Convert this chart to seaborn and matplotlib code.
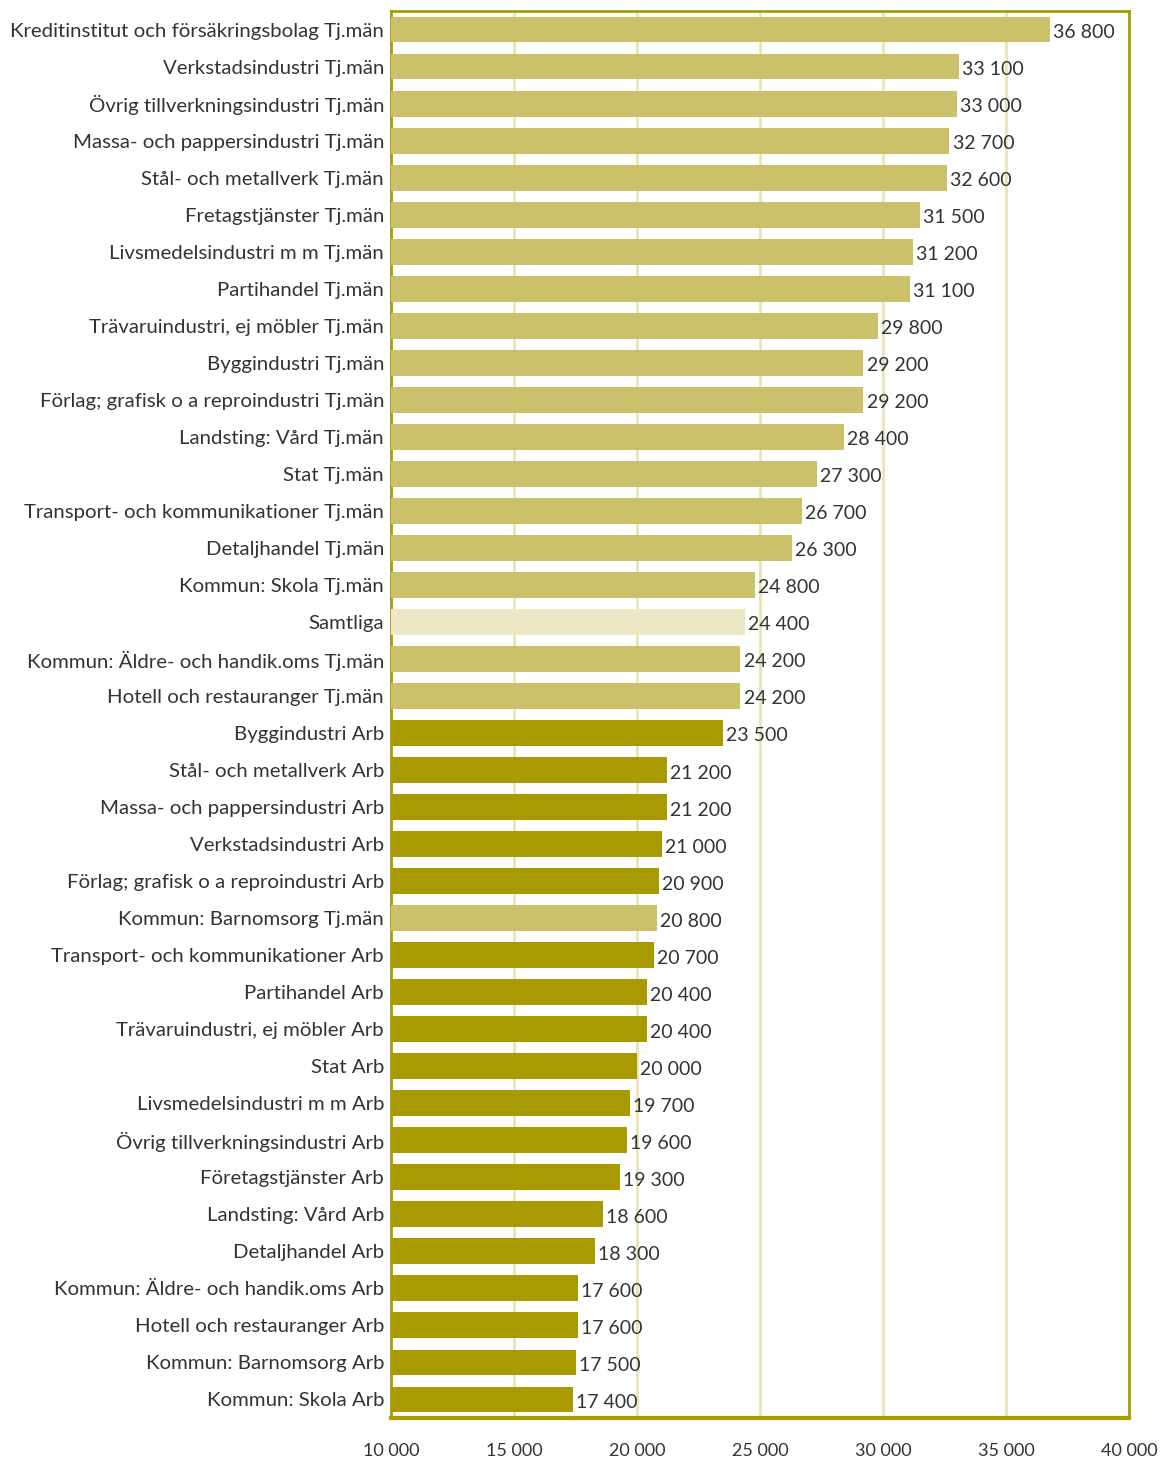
import matplotlib
matplotlib.use("Agg")
import matplotlib.pyplot as plt
import seaborn as sns
import pandas as pd
from matplotlib.ticker import FuncFormatter

categories = [
    "Kreditinstitut och försäkringsbolag Tj.män",
    "Verkstadsindustri Tj.män",
    "Övrig tillverkningsindustri Tj.män",
    "Massa- och pappersindustri Tj.män",
    "Stål- och metallverk Tj.män",
    "Fretagstjänster Tj.män",
    "Livsmedelsindustri m m Tj.män",
    "Partihandel Tj.män",
    "Trävaruindustri, ej möbler Tj.män",
    "Byggindustri Tj.män",
    "Förlag; grafisk o a reproindustri Tj.män",
    "Landsting: Vård Tj.män",
    "Stat Tj.män",
    "Transport- och kommunikationer Tj.män",
    "Detaljhandel Tj.män",
    "Kommun: Skola Tj.män",
    "Samtliga",
    "Kommun: Äldre- och handik.oms Tj.män",
    "Hotell och restauranger Tj.män",
    "Byggindustri Arb",
    "Stål- och metallverk Arb",
    "Massa- och pappersindustri Arb",
    "Verkstadsindustri Arb",
    "Förlag; grafisk o a reproindustri Arb",
    "Kommun: Barnomsorg Tj.män",
    "Transport- och kommunikationer Arb",
    "Partihandel Arb",
    "Trävaruindustri, ej möbler Arb",
    "Stat Arb",
    "Livsmedelsindustri m m Arb",
    "Övrig tillverkningsindustri Arb",
    "Företagstjänster Arb",
    "Landsting: Vård Arb",
    "Detaljhandel Arb",
    "Kommun: Äldre- och handik.oms Arb",
    "Hotell och restauranger Arb",
    "Kommun: Barnomsorg Arb",
    "Kommun: Skola Arb",
]
values = [36800, 33100, 33000, 32700, 32600, 31500, 31200, 31100, 29800, 29200,
          29200, 28400, 27300, 26700, 26300, 24800, 24400, 24200, 24200, 23500,
          21200, 21200, 21000, 20900, 20800, 20700, 20400, 20400, 20000, 19700,
          19600, 19300, 18600, 18300, 17600, 17600, 17500, 17400]
groups = ["Tj.män" if c.endswith("Tj.män") else ("Samtliga" if c == "Samtliga" else "Arb")
          for c in categories]
xticks = [10000, 15000, 20000, 25000, 30000, 35000, 40000]

palette = {"Tj.män": "#cbc16a", "Arb": "#a89a00", "Samtliga": "#ece8c6"}
frame_col = "#a89c00"
grid_col = "#e9e3b6"
text_col = "#333333"

df = pd.DataFrame({"cat": categories, "val": values, "grp": groups})

sns.set_style("white")
plt.rcParams["font.family"] = ["Lato", "DejaVu Sans"]

fig = plt.figure(figsize=(11.62, 14.59), dpi=100)
ax = fig.add_axes([391/1162, 1-1418/1459, (1129-391)/1162, (1418-11)/1459])

sns.barplot(data=df, x="val", y="cat", hue="grp", palette=palette, dodge=False,
            width=0.7, saturation=1, linewidth=0, legend=False, ax=ax, zorder=3)

fmt = lambda v: f"{int(v):,}".replace(",", " ")
for i, v in enumerate(values):
    ax.text(v + 130, i + 0.08, fmt(v), va="center", ha="left", fontsize=14,
            color=text_col, zorder=4)

ax.set_xlim(10000, 40000)
ax.set_ylim(37.5, -0.5)
ax.set_xticks(xticks)
ax.xaxis.set_major_formatter(FuncFormatter(lambda v, p: fmt(v)))
ax.set_xlabel("")
ax.set_ylabel("")
for x in xticks[1:-1]:
    ax.axvline(x, color=grid_col, lw=2, zorder=1)
for s in ax.spines.values():
    s.set_color(frame_col)
    s.set_linewidth(2)
    s.set_visible(True)
ax.spines["bottom"].set_linewidth(3)
ax.tick_params(axis="x", direction="inout", length=12, width=2, color=frame_col,
               labelsize=13, labelcolor=text_col, pad=12)
ax.tick_params(axis="y", length=0, labelsize=14.7, labelcolor=text_col, pad=5)

fig.savefig("out.png", dpi=100)
